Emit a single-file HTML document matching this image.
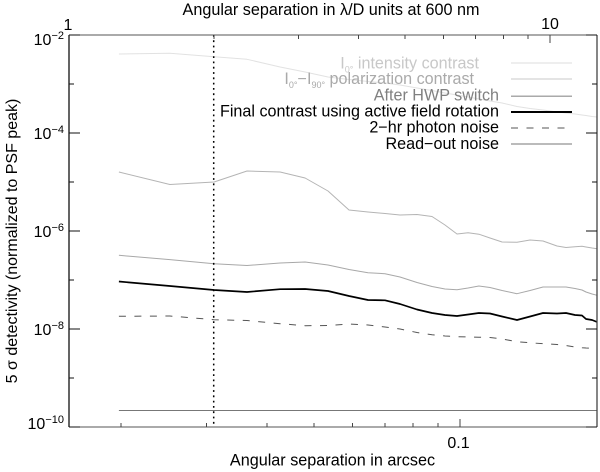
<!DOCTYPE html>
<html lang="en">
<head>
<meta charset="utf-8">
<title>Contrast curves</title>
<style>
html,body{margin:0;padding:0;background:#fff;}
svg{display:block;font-family:"Liberation Sans",Arial,sans-serif;}
text{fill:#000;}
</style>
</head>
<body>
<svg id="chart" xmlns="http://www.w3.org/2000/svg" width="600" height="472" viewBox="0 0 600 472">
  <rect x="0" y="0" width="600" height="472" fill="#fff"/>
  <g id="series" fill="none"></g>
  <line x1="213.7" y1="35" x2="213.7" y2="427" stroke="#000" stroke-width="1.5" stroke-dasharray="1.8 3.5"/>
  <g id="axes"></g>

  <text x="331" y="15" font-size="16.2" text-anchor="middle">Angular separation in λ/D units at 600 nm</text>
  <text x="332.500" y="465.500" font-size="16.2" text-anchor="middle">Angular separation in arcsec</text>
  <text transform="translate(17,241) rotate(-90)" font-size="16" text-anchor="middle">5 σ detectivity (normalized to PSF peak)</text>

  <g font-size="16.15" shape-rendering="crispEdges">
    <text x="479" y="68.500" text-anchor="end" style="fill:#c8c8c8">I<tspan font-size="9" dy="4">0°</tspan><tspan dy="-4"> intensity contrast</tspan></text>
    <line x1="511" y1="63" x2="572" y2="63" stroke="#dcdcdc" stroke-width="1"/>
    <text x="474" y="84" text-anchor="end" style="fill:#aaa">I<tspan font-size="9" dy="4">0°</tspan><tspan dy="-4">−I</tspan><tspan font-size="9" dy="4">90°</tspan><tspan dy="-4"> polarization contrast</tspan></text>
    <line x1="511" y1="79" x2="572" y2="79" stroke="#c8c8c8" stroke-width="1"/>
    <text x="499" y="100.500" text-anchor="end" style="fill:#808080">After HWP switch</text>
    <line x1="511" y1="96" x2="572" y2="96" stroke="#aaa" stroke-width="1.5"/>
    <text x="499" y="116.500" text-anchor="end">Final contrast using active field rotation</text>
    <line x1="511" y1="112" x2="572" y2="112" stroke="#000" stroke-width="2"/>
    <text x="499" y="132.500" text-anchor="end">2−hr photon noise</text>
    <line x1="511" y1="128" x2="566" y2="128" stroke="#555" stroke-width="1" stroke-dasharray="7 8.5"/>
    <text x="499" y="149" text-anchor="end">Read−out noise</text>
    <line x1="511" y1="144" x2="572" y2="144" stroke="#777" stroke-width="1"/>
  </g>
</svg>
<script>
// Separation in arcsec, shared by all the curves
const separation = [0.0198,0.02523,0.03111,0.03638,0.04256,0.04792,0.05344,0.05904,0.06461,0.07003,0.07522,0.08154,0.08757,0.09313,0.09858,0.1039,0.1094,0.1153,0.1221,0.1311,0.1395,0.1483,0.1585,0.1654,0.1726,0.1785,0.1819,0.1872,0.1917];
// log10 of the 5-sigma detectivity for each curve
const logIntensity = [-2.388,-2.373,-2.445,-2.496,-2.653,-2.755,-2.857,-2.908,-2.949,-2.980,-3.020,-3.082,-3.133,-3.184,-3.224,-3.265,-3.306,-3.347,-3.388,-3.459,-3.500,-3.531,-3.571,-3.592,-3.612,-3.633,-3.643,-3.663,-3.673];
const logPolarization = [-4.796,-5.051,-5.000,-4.776,-4.796,-4.918,-5.184,-5.571,-5.612,-5.643,-5.673,-5.663,-5.704,-5.878,-6.061,-6.035,-6.065,-6.143,-6.224,-6.231,-6.184,-6.204,-6.306,-6.337,-6.320,-6.312,-6.327,-6.347,-6.361];
const logHwp = [-6.496,-6.584,-6.667,-6.704,-6.653,-6.633,-6.694,-6.786,-6.851,-6.871,-6.939,-7.051,-7.133,-7.184,-7.198,-7.163,-7.122,-7.153,-7.214,-7.280,-7.214,-7.143,-7.143,-7.143,-7.173,-7.204,-7.245,-7.286,-7.312];
const logFinal = [-7.031,-7.122,-7.204,-7.245,-7.188,-7.184,-7.224,-7.327,-7.408,-7.414,-7.490,-7.602,-7.673,-7.714,-7.735,-7.704,-7.673,-7.684,-7.745,-7.816,-7.745,-7.673,-7.684,-7.673,-7.714,-7.724,-7.796,-7.816,-7.857];
const logPhoton = [-7.741,-7.735,-7.810,-7.827,-7.892,-7.933,-7.929,-7.898,-7.918,-7.959,-8.000,-8.071,-8.116,-8.143,-8.157,-8.163,-8.167,-8.173,-8.204,-8.259,-8.282,-8.300,-8.316,-8.337,-8.367,-8.382,-8.388,-8.392,-8.394];
const logReadout = [-9.663,-9.663,-9.663,-9.663,-9.663,-9.663,-9.663,-9.663,-9.663,-9.663,-9.663,-9.663,-9.663,-9.663,-9.663,-9.663,-9.663,-9.663,-9.663,-9.663,-9.663,-9.663,-9.663,-9.663,-9.663,-9.663,-9.663,-9.663,-9.663];
// Tick values
const yTickExponents = [-2,-3,-4,-5,-6,-7,-8,-9,-10];
const yTickLabels = ["−2","−4","−6","−8","−10"];
const bottomTicks = [0.02,0.03,0.04,0.05,0.06,0.07,0.08,0.09,0.1];
const topTicks = [2,3,4,5,6,7,8,9,10];

const NS = 'http://www.w3.org/2000/svg';
const L = 69, R = 597, T = 35, B = 427;
function xSep(s){ return 460 + 485 * (Math.log10(s) + 1); }
function xLamD(v){ return 69 + 481 * Math.log10(v); }
function yLog(e){ return T + (-2 - e) * 49; }

const seriesLayer = document.getElementById('series');
const axesLayer = document.getElementById('axes');

function drawCurve(values, name, color, width, dash){
  const p = document.createElementNS(NS, 'polyline');
  p.setAttribute('points', values.map((v, i) => xSep(separation[i]).toFixed(1) + ',' + yLog(v).toFixed(1)).join(' '));
  p.setAttribute('stroke', color);
  p.setAttribute('stroke-width', width);
  p.setAttribute('fill', 'none');
  p.setAttribute('stroke-linejoin', 'round');
  if (dash) p.setAttribute('stroke-dasharray', dash);
  
  
  seriesLayer.appendChild(p);
}
drawCurve(logIntensity, 'intensity-contrast-curve', '#e2e2e2', 1);
drawCurve(logPolarization, 'polarization-contrast-curve', '#b4b4b4', 1);
drawCurve(logHwp, 'after-hwp-switch-curve', '#a8a8a8', 1);
drawCurve(logFinal, 'final-contrast-curve', '#000', 1.7);
drawCurve(logPhoton, 'photon-noise-curve', '#555', 1, '7 8.5');
drawCurve(logReadout, 'readout-noise-curve', '#777', 1);

function seg(x1, y1, x2, y2, color, width, name, crisp){
  const l = document.createElementNS(NS, 'line');
  l.setAttribute('x1', x1);
  l.setAttribute('y1', y1);
  l.setAttribute('x2', x2);
  l.setAttribute('y2', y2);
  l.setAttribute('stroke', color);
  l.setAttribute('stroke-width', width);
  if (crisp) l.setAttribute('shape-rendering', 'crispEdges');
  
  
  axesLayer.appendChild(l);
}
function label(x, y, txt, size, anchor, name){
  const t = document.createElementNS(NS, 'text');
  t.setAttribute('x', x);
  t.setAttribute('y', y);
  t.setAttribute('font-size', size);
  t.setAttribute('text-anchor', anchor);
  t.textContent = txt;
  
  
  axesLayer.appendChild(t);
  return t;
}

seg(L, T, R, T, '#555', 1, 'top-spine', true);
seg(L, B, R, B, '#555', 1, 'bottom-spine', true);
seg(L, T, L, B, '#111', 1.3, 'left-spine', false);
seg(R, T, R, B, '#444', 1.3, 'right-spine', false);

yTickExponents.forEach(e => {
  const y = yLog(e);
  const major = e % 2 === 0;
  const len = major ? 11 : 5;
  seg(L, y, L + len, y, '#111', 1, 'y-tick-left', true);
  seg(R - len, y, R, y, '#111', 1, 'y-tick-right', true);
});
yTickExponents.filter(e => e % 2 === 0).forEach((e, i) => {
  const y = yLog(e);
  const nudge = e === -2 ? 10 : (e === -10 ? 2 : 6);
  const t = label(64, y + nudge, '10', 16, 'end', 'y-tick-label');
  const s = document.createElementNS(NS, 'tspan');
  s.setAttribute('font-size', '11');
  s.setAttribute('dy', '-6');
  s.textContent = yTickLabels[i];
  
  
  t.appendChild(s);
});
bottomTicks.forEach(v => {
  const x = xSep(v);
  seg(x, B, x, B - (v === 0.1 ? 8 : 4), '#444', 1, 'bottom-tick', true);
});
topTicks.forEach(v => {
  const x = xLamD(v);
  seg(x, T, x, T + (v === 10 ? 8 : 4), '#444', 1, 'top-tick', true);
});
label(xSep(0.1) - 1.5, 448, '0.1', 16, 'middle', 'bottom-tick-label');
label(xLamD(1) - 1, 30, '1', 16, 'middle', 'top-tick-label');
label(xLamD(10), 29, '10', 16, 'middle', 'top-tick-label');
</script>
</body>
</html>
